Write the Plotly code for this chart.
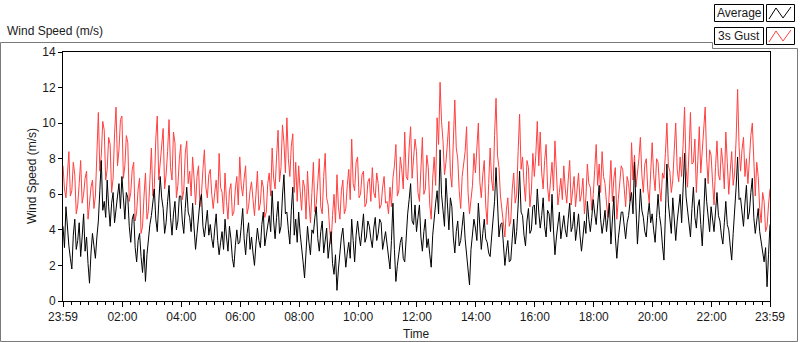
import pandas as pd
import plotly.graph_objects as go

# ---- data (3-minute samples from 23:59 to 23:59) ----
start_time = "2023-01-01 23:59"
step_minutes = 3

gust = [
    7.6, 6.3, 5.8, 7.0, 8.4, 5.9, 6.2, 7.8, 7.1, 4.9, 5.4, 6.6, 7.9, 5.5, 6.0, 6.9, 7.3, 4.6, 5.6, 6.4,
    6.8, 5.2, 5.9, 8.7, 10.6, 7.3, 8.2, 10.1, 9.6, 6.8, 7.4, 9.2, 8.8, 6.1, 6.9, 9.4, 10.9, 7.6, 8.5, 10.2,
    10.4, 6.9, 7.6, 9.3, 8.9, 5.6, 6.1, 7.4, 7.8, 4.5, 5.0, 6.3, 6.9, 3.8, 4.2, 5.9, 7.2, 4.6, 5.1, 6.8,
    8.6, 5.9, 6.4, 9.1, 10.4, 6.8, 7.9, 9.0, 9.7, 6.3, 7.1, 8.4, 10.2, 7.5, 6.8, 9.5, 8.9, 5.8, 6.5, 8.0,
    8.8, 5.7, 6.2, 8.3, 9.0, 6.6, 7.3, 5.9, 8.1, 6.9, 5.4, 7.0, 7.6, 5.3, 6.0, 7.4, 8.5, 6.4, 5.8, 7.1,
    7.4, 6.0, 5.2, 6.1, 6.8, 5.5, 8.3, 6.4, 6.1, 4.9, 7.2, 5.6, 4.6, 6.2, 6.6, 4.8, 5.0, 6.3, 7.0, 5.4,
    8.1, 6.5, 5.9, 6.9, 7.6, 4.9, 5.3, 6.2, 6.7, 5.7, 4.8, 6.0, 7.3, 5.1, 5.5, 6.8, 6.4, 4.7, 5.0, 6.6,
    7.2, 5.9, 8.6, 6.9, 6.3, 8.1, 9.6, 6.7, 7.5, 9.9, 8.9, 7.2, 10.3, 8.0, 7.0, 8.7, 9.4, 6.1, 7.8, 5.6,
    7.6, 6.2, 5.1, 6.8, 6.4, 4.6, 7.3, 5.6, 4.4, 6.1, 7.8, 5.0, 5.5, 6.7, 8.0, 5.3, 4.9, 7.0, 8.3, 5.8,
    5.4, 4.1, 3.2, 4.8, 6.0, 4.4, 7.1, 5.3, 4.6, 6.2, 6.8, 4.9, 5.2, 6.5, 7.4, 5.7, 9.1, 6.6, 6.2, 7.8,
    8.1, 5.8, 6.0, 7.1, 7.3, 5.3, 5.5, 6.7, 6.9, 5.6, 7.5, 6.1, 5.8, 7.2, 6.6, 5.2, 5.4, 6.4, 7.0, 5.5,
    5.6, 4.9, 6.4, 5.3, 6.9, 7.6, 8.8, 5.9, 6.2, 8.1, 7.4, 6.3, 9.5, 7.0, 6.8, 8.6, 9.8, 6.9, 7.9, 9.1,
    8.4, 6.1, 5.6, 7.7, 9.2, 6.0, 6.3, 8.2, 7.5, 5.4, 4.6, 6.9, 8.1, 6.5, 10.3, 8.8, 12.3, 10.1, 9.0, 7.1,
    7.8, 8.9, 10.1, 7.2, 6.4, 9.0, 11.3, 8.6, 8.0, 6.2, 5.2, 7.0, 7.6, 8.4, 9.8, 6.1, 4.9, 5.8, 6.5, 8.3,
    7.2, 8.6, 10.0, 6.7, 5.8, 7.1, 7.9, 5.4, 4.3, 6.6, 8.6, 6.8, 6.2, 9.3, 11.4, 8.2, 7.5, 5.9, 5.0, 4.1,
    3.6, 5.1, 5.8, 4.2, 4.5, 6.3, 7.2, 5.5, 6.0, 8.4, 10.5, 7.4, 8.1, 6.6, 5.6, 7.9, 7.5, 5.3, 6.2, 8.3,
    7.0, 8.2, 10.1, 7.6, 9.5, 7.2, 6.3, 7.9, 8.8, 6.4, 5.6, 6.8, 7.8, 6.2, 9.0, 7.3, 5.4, 6.1, 6.9, 5.7,
    7.6, 6.3, 5.5, 6.8, 7.9, 5.4, 6.1, 7.0, 5.3, 6.4, 7.2, 5.6, 6.0, 6.9, 4.9, 5.8, 7.7, 6.6, 6.4, 5.1,
    6.0, 7.4, 8.8, 6.5, 7.7, 6.1, 8.4, 7.0, 6.6, 5.5, 4.7, 6.3, 7.9, 5.6, 6.9, 7.5, 4.6, 5.7, 6.8, 7.6,
    7.4, 6.2, 5.3, 7.0, 6.6, 5.6, 8.9, 6.8, 8.2, 6.4, 7.2, 8.0, 9.2, 7.1, 6.1, 7.7, 8.0, 6.3, 5.5, 7.3,
    8.9, 7.1, 6.2, 8.0, 7.8, 6.4, 5.6, 7.2, 6.9, 8.3, 10.0, 7.6, 7.3, 6.1, 6.8, 8.5, 10.0, 7.4, 6.7, 8.1,
    7.0, 8.8, 10.9, 7.5, 6.4, 8.4, 10.6, 7.7, 7.8, 9.1, 6.1, 7.9, 9.8, 7.2, 8.3, 9.6, 10.9, 8.0, 6.6, 8.5,
    8.2, 6.7, 5.4, 7.5, 9.0, 7.1, 6.8, 8.6, 7.7, 6.3, 9.5, 7.8, 6.0, 7.3, 8.4, 6.5, 7.2, 9.1, 11.9, 8.7,
    7.3, 8.5, 9.2, 7.0, 8.0, 6.6, 8.1, 9.3, 10.0, 7.4, 5.9, 7.8, 7.0, 5.2, 4.4, 6.1, 5.6, 3.9, 4.2, 5.4,
    6.3,
]

average = [
    4.2, 3.0, 5.3, 4.1, 3.1, 2.4, 1.8, 3.7, 4.6, 2.9, 3.4, 4.4, 2.5, 3.6, 4.9, 2.8, 3.6, 2.1, 1.0, 2.7,
    3.8, 3.1, 2.4, 3.6, 4.5, 6.2, 7.9, 5.1, 5.6, 4.7, 6.8, 5.3, 4.2, 5.5, 6.1, 4.4, 5.0, 5.9, 6.6, 5.2,
    7.0, 5.4, 4.6, 6.1, 5.8, 4.2, 3.3, 4.6, 4.9, 3.0, 2.2, 3.4, 3.8, 2.5, 1.6, 2.9, 1.1, 2.6, 3.5, 4.3,
    4.8, 5.7, 6.3, 4.6, 3.9, 5.5, 7.0, 5.8, 5.2, 3.8, 4.4, 5.6, 6.5, 4.7, 3.7, 4.9, 5.6, 4.0, 4.5, 5.9,
    5.9, 4.5, 3.8, 5.2, 6.4, 5.0, 4.7, 3.9, 5.5, 4.1, 2.9, 3.8, 4.8, 5.6, 6.0, 4.2, 3.6, 4.6, 5.1, 3.7,
    4.3, 3.5, 3.0, 4.1, 4.9, 3.4, 2.6, 3.3, 3.9, 2.9, 4.6, 3.6, 2.8, 4.2, 3.5, 2.4, 1.9, 3.1, 4.0, 3.2,
    3.3, 4.2, 5.2, 3.5, 2.6, 3.8, 4.4, 2.9, 3.6, 2.7, 2.0, 3.2, 4.1, 3.4, 3.0, 4.3, 5.0, 3.1, 3.7, 4.5,
    4.8, 3.9, 6.2, 4.5, 3.5, 4.7, 5.6, 3.8, 4.2, 5.9, 7.1, 4.9, 5.0, 4.0, 3.2, 5.1, 6.4, 3.7, 4.6, 3.3,
    5.0, 3.8, 3.1, 2.2, 1.3, 3.0, 4.2, 3.3, 2.6, 4.0, 3.8, 4.7, 5.3, 3.5, 2.8, 3.9, 4.5, 2.7, 3.4, 4.1,
    2.4, 3.3, 3.9, 2.1, 1.5, 2.6, 0.6, 1.8, 2.8, 3.6, 4.1, 2.9, 1.9, 2.7, 3.3, 2.4, 4.6, 3.4, 2.2, 3.7,
    4.5, 3.7, 3.1, 4.0, 4.9, 3.3, 3.6, 4.5, 4.2, 3.5, 3.0, 4.1, 4.7, 3.4, 3.8, 4.6, 4.4, 2.9, 3.3, 3.9,
    3.2, 2.5, 1.8, 3.4, 5.5, 2.9, 1.1, 2.0, 2.7, 3.3, 3.6, 2.4, 2.2, 3.8, 4.9, 5.7, 6.6, 4.5, 4.3, 5.4,
    3.9, 4.7, 5.4, 3.6, 2.8, 3.9, 4.6, 3.0, 3.5, 2.6, 1.9, 3.7, 4.8, 5.5, 6.2, 4.9, 8.5, 6.0, 5.1, 4.2,
    6.9, 5.2, 4.0, 5.8, 5.3, 3.6, 2.7, 3.9, 4.5, 3.1, 3.4, 4.2, 5.0, 3.5, 2.6, 1.8, 0.9, 2.9, 3.7, 4.6,
    4.1, 3.4, 5.5, 4.0, 2.9, 3.8, 4.6, 3.5, 3.3, 2.7, 2.5, 3.6, 4.8, 5.6, 7.5, 4.9, 3.6, 4.3, 4.4, 3.2,
    2.0, 2.8, 3.4, 2.2, 2.3, 3.5, 4.6, 3.2, 3.9, 5.4, 7.3, 5.0, 4.8, 3.7, 3.1, 4.5, 5.2, 3.8, 4.0, 5.3,
    5.4, 4.3, 6.3, 5.0, 4.1, 4.8, 5.8, 4.2, 3.6, 5.1, 4.9, 3.9, 6.0, 4.0, 2.6, 3.6, 4.4, 5.0, 3.5, 4.2,
    4.8, 4.0, 3.6, 4.6, 5.5, 3.9, 4.2, 5.0, 3.4, 4.1, 4.9, 3.7, 2.8, 3.6, 4.5, 3.8, 5.6, 4.6, 3.9, 4.7,
    5.7, 4.9, 4.3, 5.4, 6.5, 4.6, 3.8, 4.4, 5.1, 3.9, 4.6, 5.5, 3.2, 4.3, 5.9, 3.6, 2.4, 3.5, 4.1, 5.0,
    5.0, 4.2, 3.5, 4.4, 4.8, 5.6, 6.1, 4.9, 7.8, 5.3, 3.2, 4.6, 6.3, 5.1, 4.7, 3.9, 3.6, 4.8, 5.5, 4.4,
    4.9, 4.0, 3.3, 4.7, 6.0, 4.8, 4.2, 3.1, 2.3, 4.9, 7.7, 5.5, 4.6, 3.8, 5.8, 4.4, 3.4, 4.5, 5.2, 6.0,
    4.4, 6.5, 8.3, 5.9, 5.0, 4.2, 3.6, 5.2, 6.4, 4.7, 4.1, 5.3, 5.7, 4.3, 3.1, 4.9, 6.9, 5.6, 4.8, 3.9,
    5.3, 4.6, 3.9, 5.0, 6.1, 4.8, 4.5, 3.7, 3.2, 4.4, 5.6, 4.3, 4.0, 3.1, 2.3, 3.8, 5.0, 6.4, 8.1, 5.7,
    5.8, 4.9, 4.2, 5.5, 6.5, 4.6, 5.0, 6.1, 6.9, 4.7, 3.8, 4.5, 5.2, 3.9, 3.4, 2.8, 2.2, 3.0, 0.8, 2.6,
    4.3,
]

tick_times = ["2023-01-01 23:59", "2023-01-02 02:00", "2023-01-02 04:00",
              "2023-01-02 06:00", "2023-01-02 08:00", "2023-01-02 10:00",
              "2023-01-02 12:00", "2023-01-02 14:00", "2023-01-02 16:00",
              "2023-01-02 18:00", "2023-01-02 20:00", "2023-01-02 22:00",
              "2023-01-02 23:59"]
tick_labels = ["23:59", "02:00", "04:00", "06:00", "08:00", "10:00", "12:00",
               "14:00", "16:00", "18:00", "20:00", "22:00", "23:59"]

times_avg = pd.date_range(start=start_time, periods=len(average), freq=f"{step_minutes}min")
times_gust = pd.date_range(start=start_time, periods=len(gust), freq=f"{step_minutes}min")
end_time = pd.Timestamp(start_time) + pd.Timedelta(hours=24)

# ---- geometry helpers (pixel -> paper) ----
W, H = 800, 342
L, R, T, B = 63, 30, 52, 41
PW, PH = W - L - R, H - T - B


def px(x):
    return (x - L) / PW


def py(y):
    return (H - B - y) / PH


FONT = "Liberation Sans, Arial, sans-serif"
GUST_COLOR = "#FF4040"
TXT = "#1a1a1a"

fig = go.Figure()
fig.add_trace(go.Scatter(x=times_gust, y=gust, mode="lines", name="3s Gust",
                         line=dict(color=GUST_COLOR, width=1), showlegend=False))
fig.add_trace(go.Scatter(x=times_avg, y=average, mode="lines", name="Average",
                         line=dict(color="black", width=1), showlegend=False))

fig.update_layout(
    width=W, height=H,
    margin=dict(l=L, r=R, t=T, b=B, pad=0),
    paper_bgcolor="white", plot_bgcolor="white",
    font=dict(family=FONT, size=12, color=TXT),
    showlegend=False,
)

fig.update_xaxes(
    range=[pd.Timestamp(start_time), end_time],
    tickmode="array", tickvals=tick_times, ticktext=tick_labels,
    ticks="outside", ticklen=5, tickcolor="black", tickwidth=1,
    showline=True, linecolor="black", linewidth=1, mirror=True,
    showgrid=False, zeroline=False,
    tickfont=dict(family=FONT, size=12, color=TXT),
    minor=dict(ticks="outside", ticklen=3, tickcolor="black",
               tick0="2023-01-02 00:00", dtick=120 * 60 * 1000 / 7, showgrid=False),
)
fig.update_yaxes(
    range=[0, 14], tickmode="linear", tick0=0, dtick=2,
    ticks="outside", ticklen=4, tickcolor="black",
    showline=True, linecolor="black", linewidth=1, mirror=True,
    showgrid=False, zeroline=False,
    tickfont=dict(family=FONT, size=12, color=TXT),
)

annotations = [
    dict(text="Wind Speed (m/s)", x=px(5), y=py(31), xref="paper", yref="paper",
         xanchor="left", yanchor="middle", showarrow=False,
         font=dict(family=FONT, size=12, color=TXT)),
    dict(text="Time", x=px(416), y=py(334), xref="paper", yref="paper",
         xanchor="center", yanchor="middle", showarrow=False,
         font=dict(family=FONT, size=12, color=TXT)),
    dict(text="Wind Speed (m/s)", x=px(32), y=py(176), xref="paper", yref="paper",
         xanchor="center", yanchor="middle", showarrow=False, textangle=-90,
         font=dict(family=FONT, size=12, color=TXT)),
    dict(text="Average", x=px(739), y=py(13), xref="paper", yref="paper",
         xanchor="center", yanchor="middle", showarrow=False,
         font=dict(family=FONT, size=12, color=TXT)),
    dict(text="3s Gust", x=px(739), y=py(35.5), xref="paper", yref="paper",
         xanchor="center", yanchor="middle", showarrow=False,
         font=dict(family=FONT, size=12, color=TXT)),
]

FRAME = "#7a7a7a"


def rect(x0, y0, x1, y1, color="black"):
    return dict(type="rect", xref="paper", yref="paper",
                x0=px(x0), x1=px(x1), y0=py(y1), y1=py(y0),
                line=dict(color=color, width=1), fillcolor="white", layer="below")


def path(points, color, width=1):
    d = "M " + " L ".join(f"{px(a):.5f},{py(b):.5f}" for a, b in points)
    return dict(type="path", xref="paper", yref="paper", path=d,
                line=dict(color=color, width=width), layer="above")


shapes = [
    # outer frame
    path([(0.5, 341.5), (0.5, 42.5), (712.5, 42.5), (712.5, 48.5),
          (797.5, 48.5), (797.5, 341.5), (0.5, 341.5)], FRAME),
    # legend boxes
    rect(714.5, 4.5, 763.5, 21.5),
    rect(766.5, 4.5, 794.5, 21.5),
    rect(714.5, 27.5, 763.5, 44.5),
    rect(766.5, 27.5, 794.5, 44.5),
    path([(769, 19), (776, 8), (783, 18), (791, 7)], "black"),
    path([(769, 42), (776, 31), (783, 41), (791, 30)], GUST_COLOR),
]

fig.update_layout(annotations=annotations, shapes=shapes)

fig.write_html("out.html",
               config={"displayModeBar": False},
               post_script="document.body.style.margin='0';document.body.style.padding='0';")
